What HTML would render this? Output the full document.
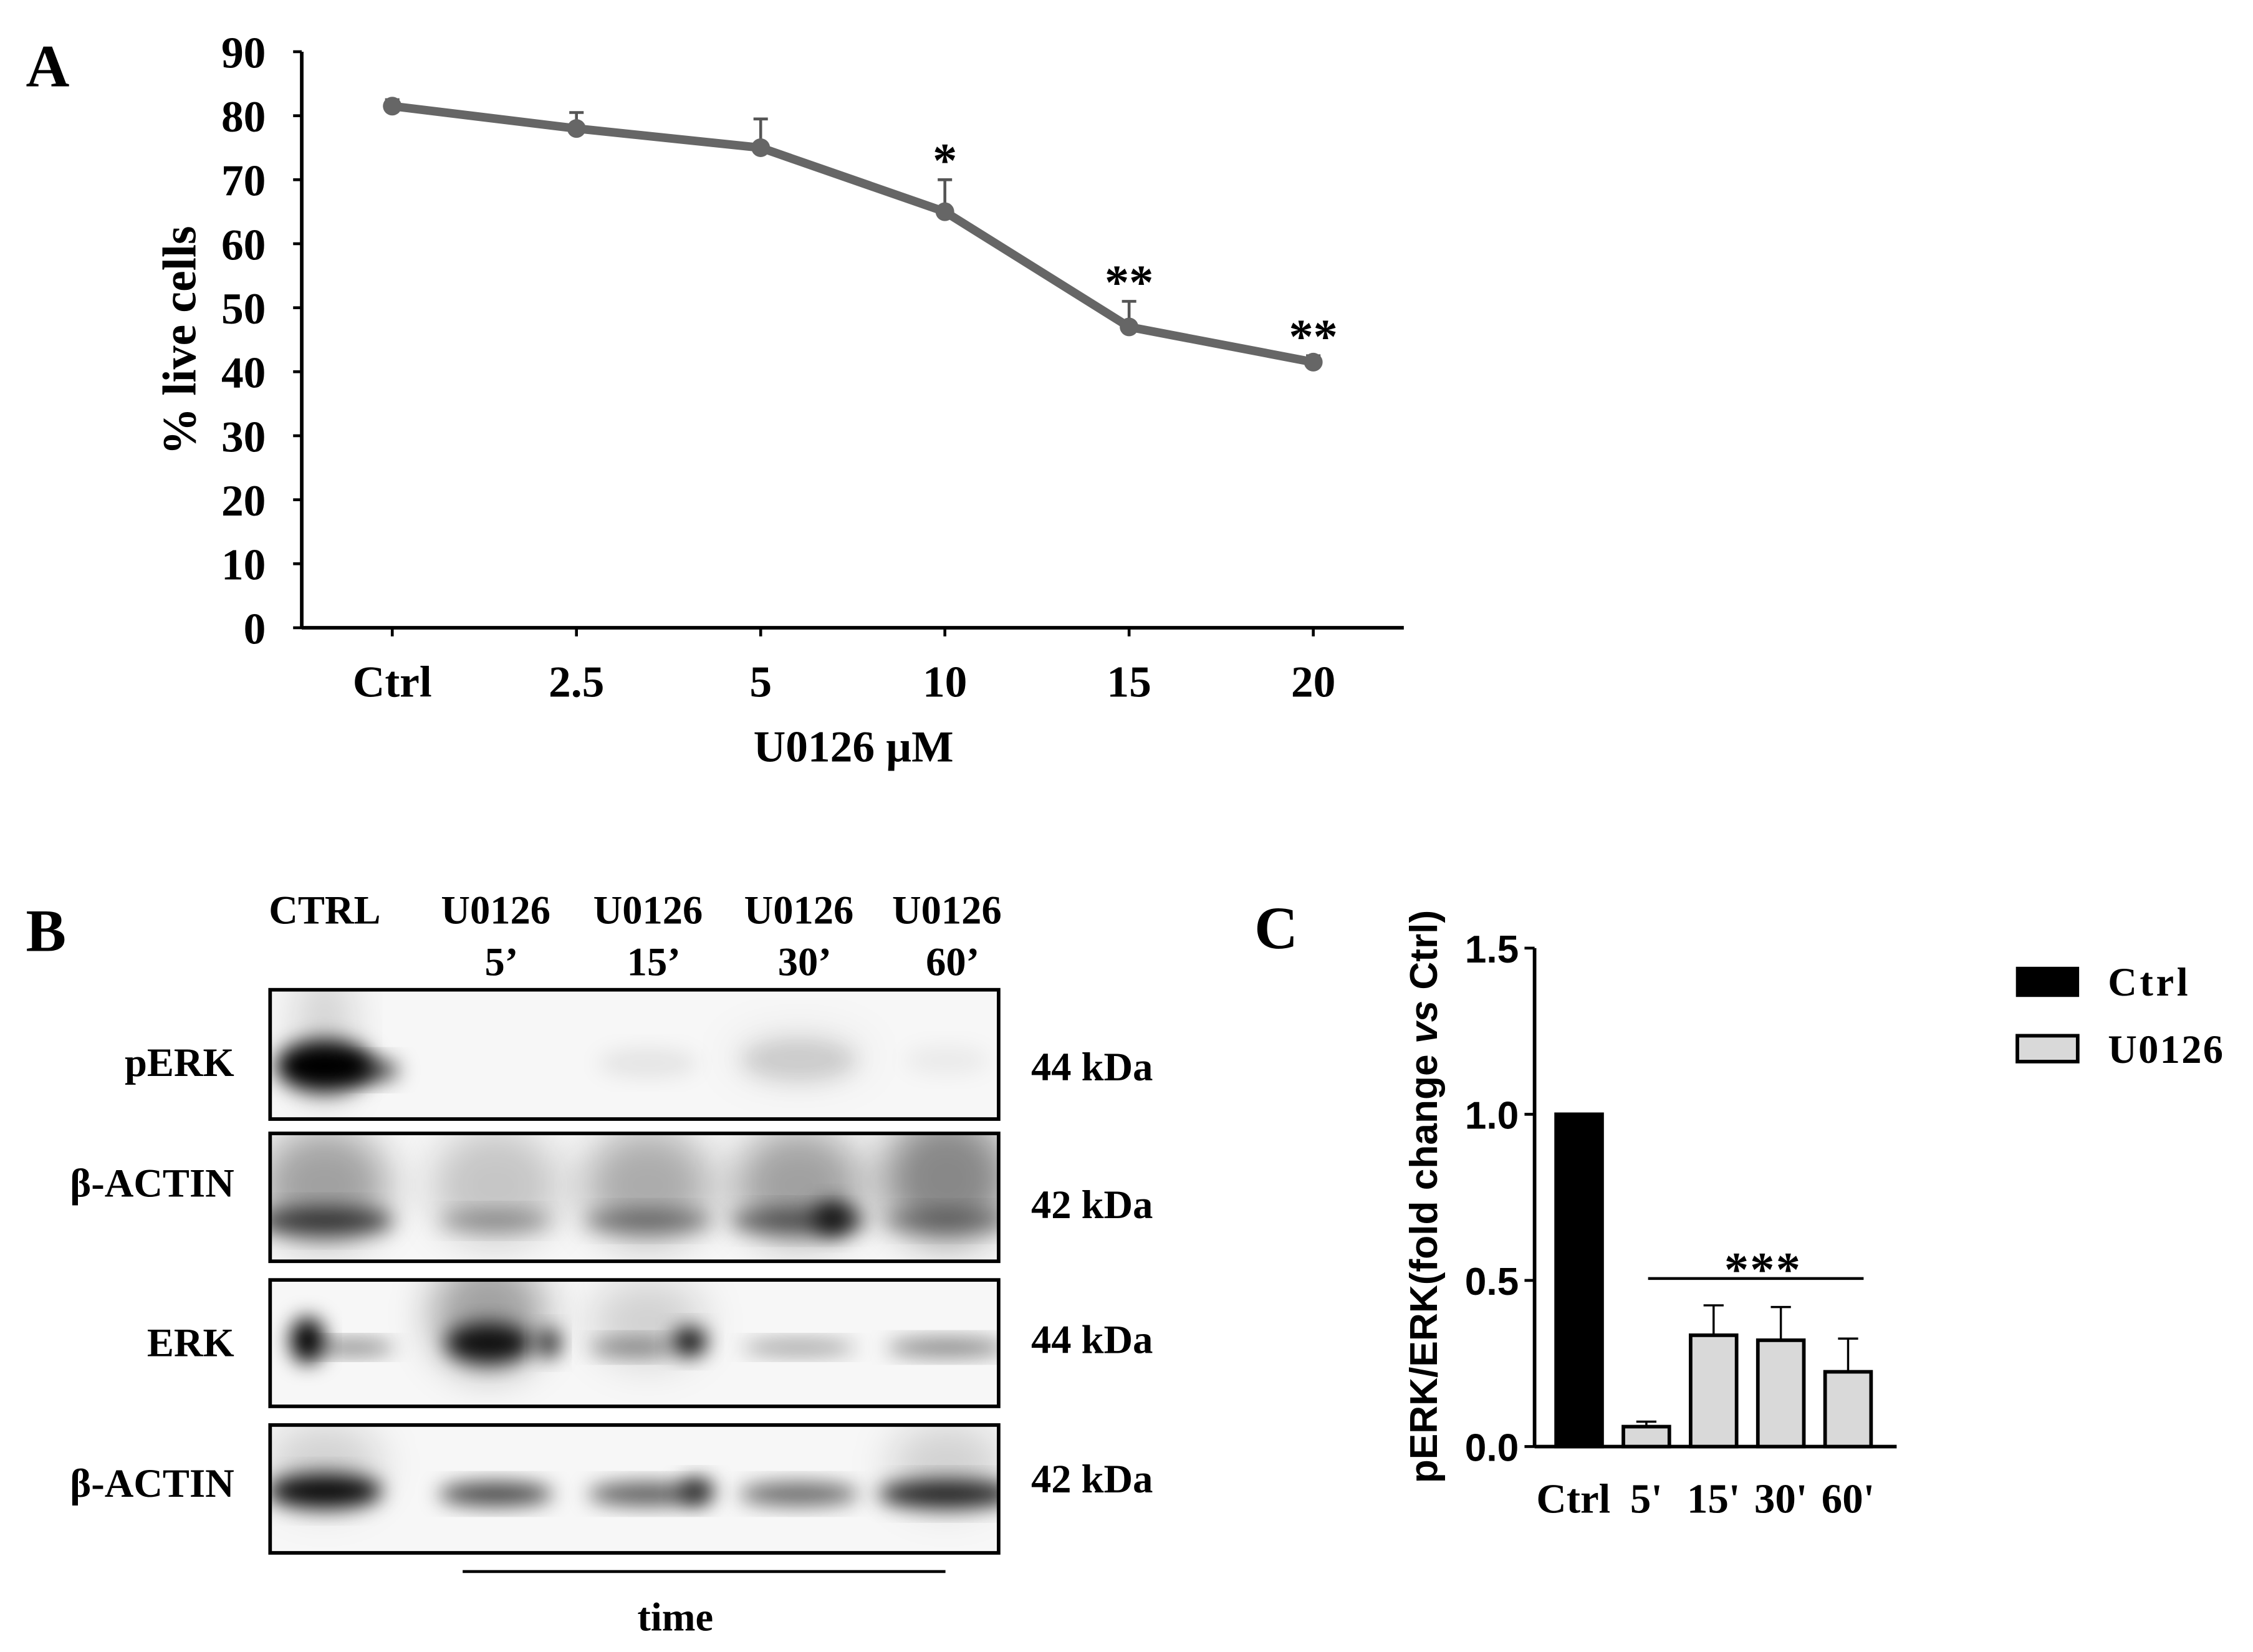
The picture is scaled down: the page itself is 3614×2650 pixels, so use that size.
<!DOCTYPE html>
<html><head><meta charset="utf-8">
<style>
html,body{margin:0;padding:0;background:#fff;}
svg{display:block;}
text{font-family:"Liberation Serif",serif;font-weight:bold;fill:#000;}
</style></head>
<body>
<svg id="fig" width="3614" height="2650" viewBox="0 0 1568 1150" preserveAspectRatio="none" xmlns="http://www.w3.org/2000/svg">
<defs>
<filter id="bl" x="-50%" y="-50%" width="200%" height="200%"><feGaussianBlur stdDeviation="7"/></filter>
<filter id="bl2" x="-50%" y="-50%" width="200%" height="200%"><feGaussianBlur stdDeviation="14"/></filter>
</defs>
<rect width="1568" height="1150" fill="#fff"/>
<text x="18" y="60" font-size="42">A</text>
<text x="873" y="660" font-size="42">C</text>
<text x="18" y="662" font-size="42">B</text>
<g id="gA"></g>
<g id="gB"></g>
<g id="gC"></g>
</svg>
<script>
// Panel A data
const aCategories = ["Ctrl","2.5","5","10","15","20"];
const aValues = [81.5, 78, 75, 65, 47, 41.5];
const aErrors = [1, 2.5, 4.5, 5, 4, 1];
const aStars = ["", "", "", "*", "**", "**"];
const aTicks = [0,10,20,30,40,50,60,70,80,90];
// Panel C data
const cCategories = ["Ctrl","5'","15'","30'","60'"];
const cValues = [1.0, 0.06, 0.335, 0.32, 0.225];
const cErrors = [0, 0.015, 0.09, 0.1, 0.1];
const cTicks = ["0.0","0.5","1.0","1.5"];

const NS="http://www.w3.org/2000/svg";
function mk(parent,tag,attrs,txt){const e=document.createElementNS(NS,tag);for(const k in attrs)e.setAttribute(k,attrs[k]);if(txt!==undefined)e.textContent=txt;parent.appendChild(e);return e;}

// ---------- Panel A ----------
const gA=document.getElementById('gA');
const ax0=210, ax1=977, ay0=437, ay1=36;
const aY=v=>ay0-(v/90)*(ay0-ay1);
const aX=i=>273+i*128.2;
let e;
e=mk(gA,'line',{x1:ax0,y1:ay1,x2:ax0,y2:ay0,stroke:'#000','stroke-width':2.5});


e=mk(gA,'line',{x1:ax0,y1:ay0,x2:ax1,y2:ay0,stroke:'#000','stroke-width':2.5});


aTicks.forEach(t=>{
  mk(gA,'line',{x1:ax0-6,y1:aY(t),x2:ax0,y2:aY(t),stroke:'#000','stroke-width':2});
  e=mk(gA,'text',{x:185,y:aY(t)+11,'font-size':31,'text-anchor':'end'},String(t));
  
  
});
aCategories.forEach((c,i)=>{
  mk(gA,'line',{x1:aX(i),y1:ay0,x2:aX(i),y2:ay0+6,stroke:'#000','stroke-width':2});
  e=mk(gA,'text',{x:aX(i),y:485,'font-size':31,'text-anchor':'middle'},c);
  
  
});
e=mk(gA,'text',{x:594,y:530,'font-size':31,'text-anchor':'middle'},"U0126 µM");


e=mk(gA,'text',{x:0,y:0,'font-size':33,'text-anchor':'middle',transform:'translate(136,237) rotate(-90)'},"% live cells");


aValues.forEach((v,i)=>{
  const top=aY(v+aErrors[i]);
  mk(gA,'line',{x1:aX(i),y1:aY(v),x2:aX(i),y2:top,stroke:'#555','stroke-width':2});
  mk(gA,'line',{x1:aX(i)-5,y1:top,x2:aX(i)+5,y2:top,stroke:'#555','stroke-width':2});
});
e=mk(gA,'polyline',{points:aValues.map((v,i)=>aX(i)+','+aY(v)).join(' '),fill:'none',stroke:'#666','stroke-width':6,'stroke-linejoin':'round'});


aValues.forEach((v,i)=>{
  e=mk(gA,'circle',{cx:aX(i),cy:aY(v),r:6.5,fill:'#666'});
  
  
  if(aStars[i]){
    e=mk(gA,'text',{x:aX(i),y:aY(v+aErrors[i])-2,'font-size':34,'text-anchor':'middle'},aStars[i]);
    
    
  }
});

// ---------- Panel B ----------
const gB=document.getElementById('gB');
const lanes=[226,345,451,556,659];
const heads=[["CTRL",""],["U0126","5’"],["U0126","15’"],["U0126","30’"],["U0126","60’"]];
heads.forEach((h,i)=>{
  e=mk(gB,'text',{x:lanes[i],y:643,'font-size':28,'text-anchor':'middle'},h[0]);
  
  
  if(h[1]){e=mk(gB,'text',{x:lanes[i]+4,y:679,'font-size':28,'text-anchor':'middle'},h[1]);
  
  }
});
const rows=[
 {y0:689,y1:779,label:"pERK",kda:"44 kDa",ly:749,ky:752,
  bands:[[226,742,34,18,1.0],[258,745,20,8,0.7],[451,740,35,10,0.08],[556,738,40,15,0.13],[659,738,30,10,0.05]],haze:[[226,720,20,50,0.15],[556,735,50,20,0.06]]},
 {y0:789,y1:878,label:"β-ACTIN",kda:"42 kDa",ly:833,ky:848,
  bands:[[226,850,48,10,0.7],[345,850,40,7,0.35],[451,850,45,8,0.45],[556,850,48,9,0.55],[580,848,14,12,0.8],[659,850,45,8,0.4]],haze:[[226,825,45,40,0.35],[345,825,45,40,0.2],[451,825,45,40,0.3],[556,825,45,40,0.35],[659,820,45,45,0.45]]},
 {y0:891,y1:979,label:"ERK",kda:"44 kDa",ly:944,ky:942,
  bands:[[214,933,12,16,1.0],[245,938,30,5,0.5],[340,935,30,14,0.9],[382,935,8,10,0.85],[440,938,30,6,0.45],[480,934,12,10,0.95],[556,938,40,5,0.4],[659,938,42,6,0.5]],haze:[[340,915,40,40,0.35],[451,920,40,30,0.15]]},
 {y0:992,y1:1081,label:"β-ACTIN",kda:"42 kDa",ly:1042,ky:1039,
  bands:[[226,1038,40,12,0.95],[345,1040,40,8,0.75],[451,1040,42,8,0.65],[485,1038,12,9,0.8],[556,1040,42,8,0.6],[659,1040,48,10,0.85]],haze:[[226,1020,40,30,0.15],[659,1020,40,30,0.15]]}
];
rows.forEach((r,ri)=>{
  const g=mk(gB,'g',{});
  
  
  const cp=mk(g,'clipPath',{id:'cp'+ri});
  mk(cp,'rect',{x:188,y:r.y0,width:507,height:r.y1-r.y0});
  const inner=mk(g,'g',{'clip-path':'url(#cp'+ri+')'});
  mk(inner,'rect',{x:188,y:r.y0,width:507,height:r.y1-r.y0,fill:'#f7f7f7'});
  r.haze.forEach(b=>mk(inner,'ellipse',{cx:b[0],cy:b[1],rx:b[2],ry:b[3],fill:'#000','fill-opacity':b[4],filter:'url(#bl2)'}));
  r.bands.forEach(b=>mk(inner,'ellipse',{cx:b[0],cy:b[1],rx:b[2],ry:b[3],fill:'#000','fill-opacity':b[4],filter:'url(#bl)'}));
  mk(g,'rect',{x:188,y:r.y0,width:507,height:r.y1-r.y0,fill:'none',stroke:'#000','stroke-width':2.5});
  e=mk(gB,'text',{x:163,y:r.ly,'font-size':28,'text-anchor':'end'},r.label);
  
  
  e=mk(gB,'text',{x:760,y:r.ky,'font-size':28,'text-anchor':'middle'},r.kda);
  
  
});
e=mk(gB,'line',{x1:322,y1:1094,x2:658,y2:1094,stroke:'#000','stroke-width':2});


e=mk(gB,'text',{x:470,y:1135,'font-size':28,'text-anchor':'middle'},"time");



// ---------- Panel C ----------
const gC=document.getElementById('gC');
const cx0=1068, cx1=1320, cy0=1007, cy1=660;
const cY=v=>cy0-(v/1.5)*(cy0-cy1);
const cX=i=>1099+i*46.8;
const bw=32;
e=mk(gC,'line',{x1:cx0,y1:cy1,x2:cx0,y2:cy0,stroke:'#000','stroke-width':2.5});


e=mk(gC,'line',{x1:cx0,y1:cy0,x2:cx1,y2:cy0,stroke:'#000','stroke-width':2.5});


cTicks.forEach(t=>{
  const v=parseFloat(t);
  mk(gC,'line',{x1:cx0-7,y1:cY(v),x2:cx0,y2:cY(v),stroke:'#000','stroke-width':2});
  e=mk(gC,'text',{x:1057,y:cY(v)+10,'font-size':27,'text-anchor':'end',style:'font-family:"Liberation Sans",sans-serif'},t);
  
  
});
cValues.forEach((v,i)=>{
  const x=cX(i);
  if(cErrors[i]>0){
    const top=cY(v+cErrors[i]);
    mk(gC,'line',{x1:x,y1:cY(v),x2:x,y2:top,stroke:'#000','stroke-width':1.5});
    mk(gC,'line',{x1:x-7,y1:top,x2:x+7,y2:top,stroke:'#000','stroke-width':1.5});
  }
  e=mk(gC,'rect',{x:x-bw/2,y:cY(v),width:bw,height:cy0-cY(v),fill:i===0?'#000':'#d9d9d9',stroke:'#000','stroke-width':2.5});
  
  
  e=mk(gC,'text',{x:(i===0?x-4:x),y:1053,'font-size':29,'text-anchor':'middle'},cCategories[i]);
  
  
});
e=mk(gC,'line',{x1:1147,y1:890,x2:1297,y2:890,stroke:'#000','stroke-width':2});


e=mk(gC,'text',{x:1227,y:895,'font-size':34,'text-anchor':'middle','letter-spacing':1},"***");


const yt=mk(gC,'text',{x:0,y:0,'font-size':27,'text-anchor':'middle',transform:'translate(1000,833) rotate(-90)',style:'font-family:"Liberation Sans",sans-serif'});


mk(yt,'tspan',{},"pERK/ERK(fold change ");
mk(yt,'tspan',{'font-style':'italic'},"vs");
mk(yt,'tspan',{}," Ctrl)");
e=mk(gC,'rect',{x:1404,y:674,width:42,height:19,fill:'#000',stroke:'#000','stroke-width':2});


e=mk(gC,'text',{x:1467,y:693,'font-size':28,'letter-spacing':2},"Ctrl");


e=mk(gC,'rect',{x:1404,y:721,width:42,height:18,fill:'#d9d9d9',stroke:'#000','stroke-width':2.5});


e=mk(gC,'text',{x:1467,y:740,'font-size':28,'letter-spacing':1},"U0126");


</script>
</body></html>
